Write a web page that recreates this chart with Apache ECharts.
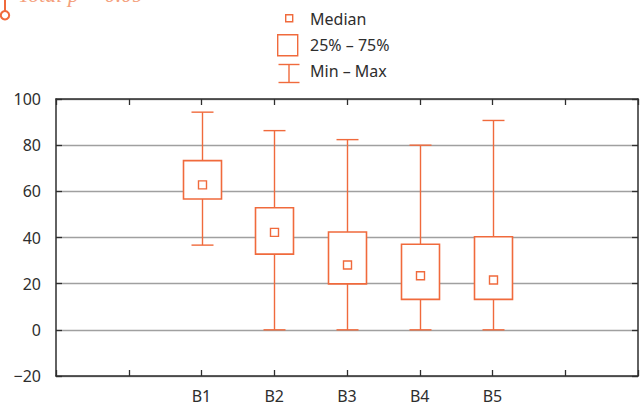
<!DOCTYPE html>
<html>
<head>
<meta charset="utf-8">
<script src="https://cdn.jsdelivr.net/npm/echarts@6/dist/echarts.min.js"></script>
<style>
  html, body { margin: 0; padding: 0; background: #fff; }
  #chart { width: 641px; height: 407px; }
</style>
</head>
<body>
<div id="chart"></div>
<script>
// Box-and-whisker summary per group
const groups = ['B1', 'B2', 'B3', 'B4', 'B5'];
const minValues = [36.7, 0, 0, 0, 0];
const q1Values = [56.7, 32.8, 19.9, 13.2, 13.2];
const medianValues = [62.8, 42.2, 28.1, 23.4, 21.6];
const q3Values = [73.3, 52.9, 42.4, 37.1, 40.3];
const maxValues = [94.3, 86.3, 82.4, 80, 90.7];
const yTicks = [-20, 0, 20, 40, 60, 80, 100];
const legendLabels = ['Median', '25% \u2013 75%', 'Min \u2013 Max'];
const noteText = 'Total p = 0.09';

// Two empty slots on either side of the groups along the x axis
const axisSlots = ['', ''].concat(groups, ['', '']);

const ORANGE = '#f06a3c';
const INK = '#2e2e2e';
const FONT = '"Noto Sans", "Open Sans", sans-serif';

const boxData = groups.map((g, i) => [
  axisSlots.indexOf(g), minValues[i], q1Values[i], medianValues[i], q3Values[i], maxValues[i]
]);

const chart = echarts.init(document.getElementById('chart'), null, { renderer: 'svg' });

const frameAxisLine = { show: true, onZero: false, lineStyle: { color: INK, width: 1.5 } };
const innerTick = { show: true, inside: true, length: 6, lineStyle: { color: INK, width: 1.3 } };

function renderBox(params, api) {
  const x = api.value(0);
  const pMin = api.coord([x, api.value(1)]);
  const pQ1 = api.coord([x, api.value(2)]);
  const pMed = api.coord([x, api.value(3)]);
  const pQ3 = api.coord([x, api.value(4)]);
  const pMax = api.coord([x, api.value(5)]);
  const cx = Math.round(pMin[0]) + 0.5;
  const boxW = 38, capW = 22, medS = 8;
  const lineStyle = { stroke: ORANGE, lineWidth: 1.4, fill: null };
  return {
    type: 'group',
    children: [
      { type: 'line', shape: { x1: cx, y1: pMin[1], x2: cx, y2: pQ1[1] }, style: lineStyle },
      { type: 'line', shape: { x1: cx, y1: pQ3[1], x2: cx, y2: pMax[1] }, style: lineStyle },
      { type: 'line', shape: { x1: cx - capW / 2, y1: pMin[1], x2: cx + capW / 2, y2: pMin[1] }, style: lineStyle },
      { type: 'line', shape: { x1: cx - capW / 2, y1: pMax[1], x2: cx + capW / 2, y2: pMax[1] }, style: lineStyle },
      { type: 'rect', shape: { x: cx - boxW / 2, y: pQ3[1], width: boxW, height: pQ1[1] - pQ3[1] },
        style: { stroke: ORANGE, lineWidth: 1.6, fill: '#fff' } },
      { type: 'rect', shape: { x: cx - medS / 2, y: pMed[1] - medS / 2, width: medS, height: medS },
        style: { stroke: ORANGE, lineWidth: 1.4, fill: '#fff' } }
    ]
  };
}

const legendTextStyle = { fill: INK, font: '16px ' + FONT, verticalAlign: 'middle', align: 'left' };

chart.setOption({
  animation: false,
  backgroundColor: '#fff',
  grid: { left: 56, right: 1, top: 99, bottom: 31, containLabel: false },
  xAxis: [
    {
      type: 'category', data: axisSlots, boundaryGap: false, position: 'bottom',
      axisLine: frameAxisLine, axisTick: Object.assign({ interval: 0 }, innerTick),
      axisLabel: { interval: 0, color: INK, fontSize: 16, fontFamily: FONT, margin: 12 },
      splitLine: { show: false }
    },
    {
      type: 'category', data: axisSlots, boundaryGap: false, position: 'top',
      axisLine: frameAxisLine, axisTick: Object.assign({ interval: 0 }, innerTick),
      axisLabel: { show: false }, splitLine: { show: false }
    }
  ],
  yAxis: [
    {
      type: 'value', position: 'left',
      min: yTicks[0], max: yTicks[yTicks.length - 1], interval: yTicks[1] - yTicks[0],
      axisLine: frameAxisLine, axisTick: innerTick,
      axisLabel: {
        color: INK, fontSize: 16, fontFamily: FONT, margin: 15,
        formatter: v => String(v).replace('-', '\u2212')
      },
      splitLine: { show: true, lineStyle: { color: '#a0a0a0', width: 1.4 } }
    },
    {
      type: 'value', position: 'right',
      min: yTicks[0], max: yTicks[yTicks.length - 1], interval: yTicks[1] - yTicks[0],
      axisLine: frameAxisLine, axisTick: innerTick,
      axisLabel: { show: false }, splitLine: { show: false }
    }
  ],
  series: [
    {
      type: 'custom',
      name: 'box',
      xAxisIndex: 0, yAxisIndex: 0,
      data: boxData,
      encode: { x: 0, y: [1, 2, 3, 4, 5] },
      renderItem: renderBox,
      z: 5
    }
  ],
  graphic: [
    // legend
    { type: 'rect', left: 285, top: 14, shape: { width: 7, height: 7 },
      style: { stroke: ORANGE, lineWidth: 1.4, fill: '#fff' } },
    { type: 'text', x: 310, y: 19, style: Object.assign({ text: legendLabels[0] }, legendTextStyle) },
    { type: 'rect', left: 277, top: 34, shape: { width: 20, height: 21 },
      style: { stroke: ORANGE, lineWidth: 1.4, fill: '#fff' } },
    { type: 'text', x: 310, y: 45, style: Object.assign({ text: legendLabels[1] }, legendTextStyle) },
    { type: 'group', left: 276, top: 62, children: [
      { type: 'line', shape: { x1: 1, y1: 1, x2: 22, y2: 1 }, style: { stroke: ORANGE, lineWidth: 1.4 } },
      { type: 'line', shape: { x1: 11.5, y1: 1, x2: 11.5, y2: 19 }, style: { stroke: ORANGE, lineWidth: 1.4 } },
      { type: 'line', shape: { x1: 1, y1: 19, x2: 22, y2: 19 }, style: { stroke: ORANGE, lineWidth: 1.4 } }
    ] },
    { type: 'text', x: 310, y: 71, style: Object.assign({ text: legendLabels[2] }, legendTextStyle) },
    // annotation pin and note running off the top-left corner
    { type: 'line', shape: { x1: 5, y1: 0, x2: 5, y2: 11 }, style: { stroke: ORANGE, lineWidth: 2 } },
    { type: 'circle', shape: { cx: 5, cy: 15.3, r: 4.2 }, style: { stroke: ORANGE, lineWidth: 2, fill: '#fff' } },
    { type: 'text', x: 18, y: -6,
      style: { text: noteText, fill: '#f4a07c', font: 'italic 22px "Liberation Serif", "DejaVu Serif", serif',
        verticalAlign: 'middle', align: 'left' } }
  ]
});
</script>
</body>
</html>
